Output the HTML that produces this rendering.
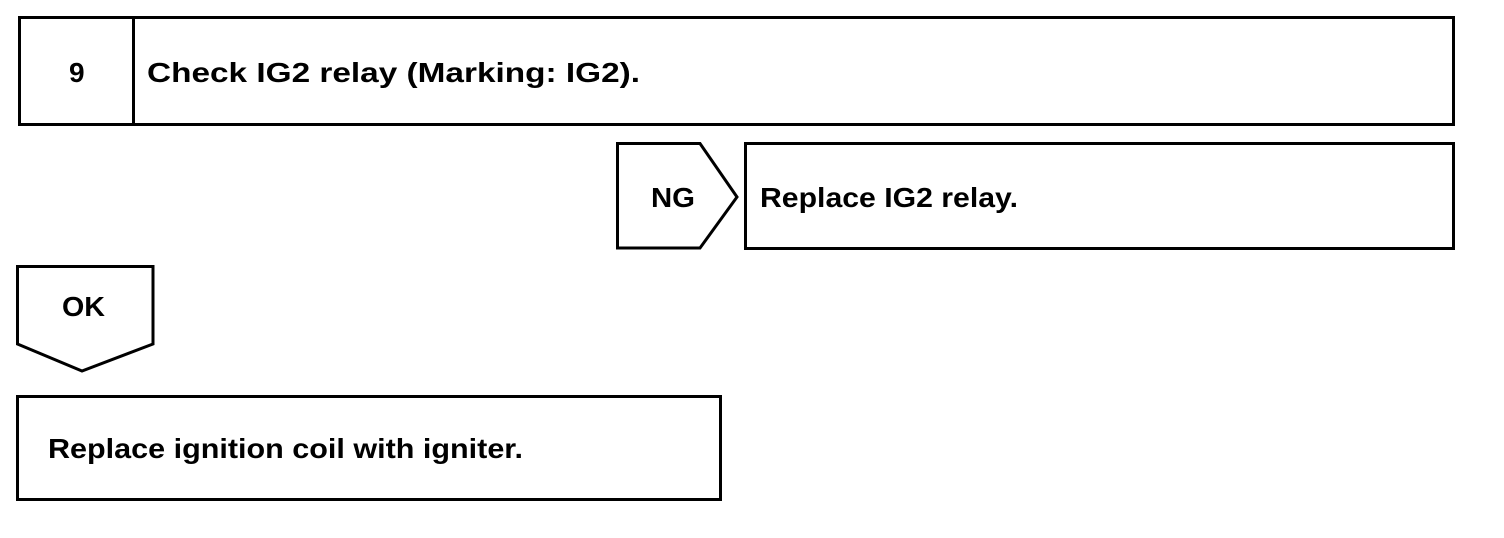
<!DOCTYPE html>
<html><head><style>html,body{margin:0;padding:0;background:#fff}svg{display:block}</style></head>
<body>
<svg width="1504" height="538" viewBox="0 0 1504 538" xmlns="http://www.w3.org/2000/svg">
<g fill="none" stroke="#000" stroke-width="3">
<rect x="19.5" y="17.5" width="1434" height="107"/>
<line x1="133.5" y1="17" x2="133.5" y2="125"/>
<polygon points="617.5,143.5 700,143.5 737,197 700,248 617.5,248"/>
<rect x="745.5" y="143.5" width="708" height="105"/>
<polygon points="17.5,266.5 153,266.5 153,344 82,371 17.5,344"/>
<rect x="17.5" y="396.5" width="703" height="103"/>
</g>
<g font-family="Liberation Sans, Arial, sans-serif" font-weight="bold" font-size="28" fill="#000">
<text x="69" y="82">9</text>
<text x="147" y="82" textLength="493" lengthAdjust="spacingAndGlyphs">Check IG2 relay (Marking: IG2).</text>
<text x="651" y="207" textLength="44" lengthAdjust="spacingAndGlyphs">NG</text>
<text x="760" y="207" textLength="258" lengthAdjust="spacingAndGlyphs">Replace IG2 relay.</text>
<text x="62" y="316" textLength="43" lengthAdjust="spacingAndGlyphs">OK</text>
<text x="48" y="458" textLength="475" lengthAdjust="spacingAndGlyphs">Replace ignition coil with igniter.</text>
</g>
</svg>
</body></html>
